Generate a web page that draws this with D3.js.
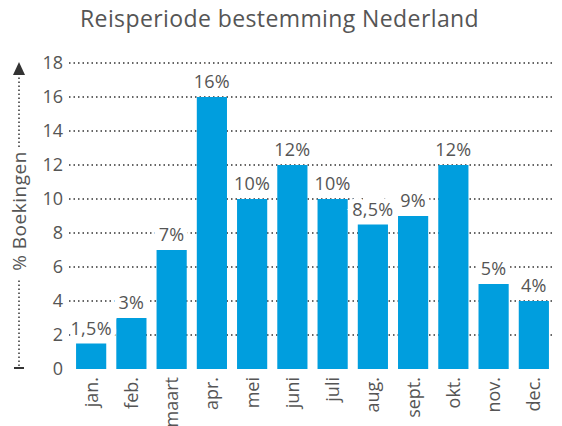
<!DOCTYPE html>
<html>
<head>
<meta charset="utf-8">
<script src="https://cdn.jsdelivr.net/npm/d3@7"></script>
<style>
  body { margin: 0; background: #fff; }
  text { font-family: "Open Sans", Roboto, sans-serif; fill: #555; }
</style>
</head>
<body>
<div id="chart"></div>
<script>
var months = ['jan.', 'feb.', 'maart', 'apr.', 'mei', 'juni', 'juli', 'aug.', 'sept.', 'okt.', 'nov.', 'dec.'];
var values = [1.5, 3, 7, 16, 10, 12, 10, 8.5, 9, 12, 5, 4];
var valueLabels = ['1,5%', '3%', '7%', '16%', '10%', '12%', '10%', '8,5%', '9%', '12%', '5%', '4%'];
var yTicks = [0, 2, 4, 6, 8, 10, 12, 14, 16, 18];
var title = 'Reisperiode bestemming Nederland';
var yTitle = '% Boekingen';

var w = 562, h = 426;
var svg = d3.select('#chart').append('svg')
    .attr('width', w)
    .attr('height', h);

// scales
var x = d3.scaleBand()
    .domain(months)
    .range([66, 559])
    .paddingInner(0.25)
    .paddingOuter(0.25);
var y = d3.scaleLinear()
    .domain([0, 18])
    .range([369, 63]);

// title
svg.append('text')
    .attr('x', 80)
    .attr('y', 27)
    .attr('font-size', '23px')
    .attr('letter-spacing', '0.4px')
    .text(title);

// dotted grid
svg.selectAll('line.grid')
    .data(yTicks.filter(function(d) { return d > 0; }))
    .enter().append('line')
    .attr('class', 'grid')
    .attr('x1', 69)
    .attr('x2', 553)
    .attr('y1', function(d) { return y(d); })
    .attr('y2', function(d) { return y(d); })
    .attr('stroke', '#333')
    .attr('stroke-width', 1.5)
    .attr('stroke-dasharray', '1.5,3');

// y tick labels
svg.selectAll('text.ytick')
    .data(yTicks)
    .enter().append('text')
    .attr('class', 'ytick')
    .attr('x', 63)
    .attr('y', function(d) { return y(d); })
    .attr('dy', '0.36em')
    .attr('text-anchor', 'end')
    .attr('font-size', '18px')
    .text(function(d) { return d; });

// bars
svg.selectAll('rect.bar')
    .data(values)
    .enter().append('rect')
    .attr('class', 'bar')
    .attr('x', function(d, i) { return x(months[i]); })
    .attr('y', function(d) { return y(d); })
    .attr('width', x.bandwidth())
    .attr('height', function(d) { return y(0) - y(d); })
    .attr('fill', '#009ede');

// value labels, white halo cuts the grid
svg.selectAll('text.val')
    .data(values)
    .enter().append('text')
    .attr('class', 'val')
    .attr('x', function(d, i) { return x(months[i]) + x.bandwidth() / 2; })
    .attr('y', function(d) { return y(d) - 9; })
    .attr('text-anchor', 'middle')
    .attr('font-size', '18px')
    .attr('letter-spacing', '0.3px')
    .attr('stroke', '#fff')
    .attr('stroke-width', 10)
    .attr('paint-order', 'stroke')
    .text(function(d, i) { return valueLabels[i]; });

// month labels rotated
svg.selectAll('text.month')
    .data(months)
    .enter().append('text')
    .attr('class', 'month')
    .attr('transform', function(d) {
        return 'translate(' + (x(d) + x.bandwidth() / 2) + ',377) rotate(-90)';
    })
    .attr('dy', '0.36em')
    .attr('text-anchor', 'end')
    .attr('font-size', '18px')
    .text(function(d) { return d; });

// y axis title with dotted arrow
var ax = 19;
svg.append('text')
    .attr('transform', 'translate(' + ax + ',211) rotate(-90)')
    .attr('dy', '0.36em')
    .attr('text-anchor', 'middle')
    .attr('font-size', '19px')
    .attr('letter-spacing', '0.5px')
    .text(yTitle);
svg.append('line')
    .attr('x1', ax).attr('x2', ax)
    .attr('y1', 366).attr('y2', 278)
    .attr('stroke', '#333').attr('stroke-width', 1.5)
    .attr('stroke-dasharray', '1.5,2.5');
svg.append('line')
    .attr('x1', ax).attr('x2', ax)
    .attr('y1', 147).attr('y2', 74)
    .attr('stroke', '#333').attr('stroke-width', 1.5)
    .attr('stroke-dasharray', '1.5,2.5');
svg.append('line')
    .attr('x1', ax - 5).attr('x2', ax + 5)
    .attr('y1', 368).attr('y2', 368)
    .attr('stroke', '#333').attr('stroke-width', 2);
svg.append('path')
    .attr('d', 'M' + ax + ',62 L' + (ax + 6) + ',75 L' + (ax - 6) + ',75 Z')
    .attr('fill', '#333');
</script>
</body>
</html>
